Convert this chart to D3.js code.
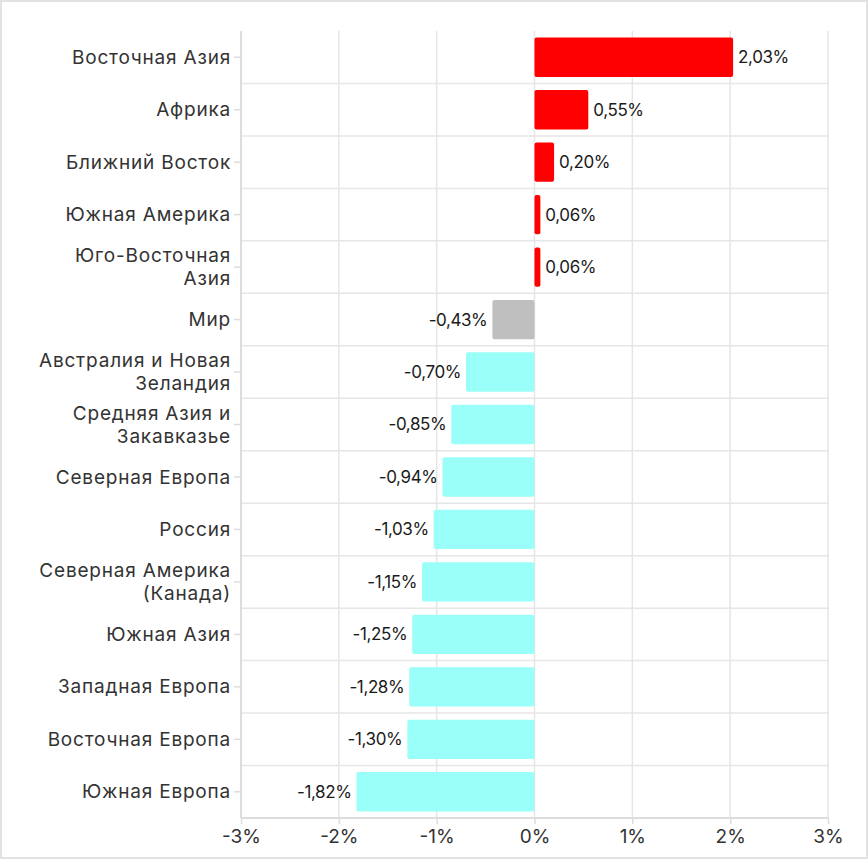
<!DOCTYPE html>
<html>
<head>
<meta charset="utf-8">
<script src="https://cdn.jsdelivr.net/npm/d3@7"></script>
<style>
	html, body { margin: 0; padding: 0; background: #fff; }
	#frame { position: absolute; left: 0; top: 0; width: 864px; height: 855px; border: 2px solid #e2e2e2; }
	svg { display: block; }
</style>
</head>
<body>
<div id="frame"></div>
<svg id="chart" width="868" height="859" style="position:absolute;left:0;top:0"></svg>
<script>
// regions, top to bottom
let regions = [
	'Восточная Азия', 'Африка', 'Ближний Восток', 'Южная Америка', 'Юго-Восточная|Азия',
	'Мир', 'Австралия и Новая|Зеландия', 'Средняя Азия и|Закавказье', 'Северная Европа',
	'Россия', 'Северная Америка|(Канада)', 'Южная Азия', 'Западная Европа',
	'Восточная Европа', 'Южная Европа'
];
let values = [2.03, 0.55, 0.20, 0.06, 0.06, -0.43, -0.70, -0.85, -0.94, -1.03, -1.15, -1.25, -1.28, -1.30, -1.82];
let xTicks = [-3, -2, -1, 0, 1, 2, 3];

let posColor = '#ff0000';
let negColor = '#99fff8';
let worldColor = '#bfbfbf';
let gridColor = '#e6e6e6';
let fontFam = 'Inter, "Noto Sans", sans-serif';

let plotL = 241, plotR = 828, plotT = 31, plotB = 818;

let svg = d3.select('#chart');

let xScale = d3.scaleLinear().domain([-3, 3]).range([plotL, plotR]);
let yScale = d3.scaleBand().domain(regions).range([plotT, plotB]).paddingInner(0.25).paddingOuter(0.125);
let step = yScale.step();

// vertical grid
svg.append('g').selectAll('line').data(xTicks).join('line')
	.attr('x1', d => xScale(d)).attr('x2', d => xScale(d))
	.attr('y1', plotT).attr('y2', plotB)
	.attr('stroke', gridColor).attr('stroke-width', 1.5);

// row separators
svg.append('g').selectAll('line').data(regions.slice(1)).join('line')
	.attr('x1', plotL).attr('x2', plotR + 1)
	.attr('y1', d => yScale(d) - yScale.paddingInner() * step / 2)
	.attr('y2', d => yScale(d) - yScale.paddingInner() * step / 2)
	.attr('stroke', gridColor).attr('stroke-width', 1.5);

// bars
svg.append('g').selectAll('rect').data(values).join('rect')
	.attr('x', d => xScale(Math.min(0, d)))
	.attr('width', d => Math.abs(xScale(d) - xScale(0)))
	.attr('y', (d, i) => yScale(regions[i]))
	.attr('height', yScale.bandwidth())
	.attr('rx', 2)
	.attr('fill', (d, i) => regions[i] == 'Мир' ? worldColor : (d >= 0 ? posColor : negColor));

// value labels
svg.append('g').selectAll('text').data(values).join('text')
	.attr('x', d => d >= 0 ? xScale(d) + 5 : xScale(d) - 5)
	.attr('y', (d, i) => yScale(regions[i]) + yScale.bandwidth() / 2)
	.attr('dy', '0.35em')
	.attr('text-anchor', d => d >= 0 ? 'start' : 'end')
	.attr('font-family', fontFam).attr('font-size', 17).attr('fill', '#1a1a1a')
	.attr('letter-spacing', -0.4)
	.text(d => d.toFixed(2).replace('.', ',') + '%');

// y axis
let yAxis = svg.append('g').attr('transform', `translate(${plotL},0)`)
	.call(d3.axisLeft(yScale).tickSize(7).tickPadding(4).tickFormat(''));
yAxis.select('.domain').attr('stroke', '#dddddd').attr('stroke-width', 2)
	.attr('d', `M0,${plotT}V${plotB}`);
yAxis.selectAll('.tick line').attr('stroke', '#dddddd').attr('stroke-width', 1.5);
yAxis.selectAll('.tick').each(function (d) {
	let lines = d.split('|');
	let t = d3.select(this).append('text')
		.attr('x', -10)
		.attr('text-anchor', 'end')
		.attr('font-family', fontFam).attr('font-size', 19).attr('fill', '#333')
		.attr('letter-spacing', 0.8);
	lines.forEach((ln, k) => {
		t.append('tspan').attr('x', -10)
			.attr('y', (k - (lines.length - 1) / 2) * 23)
			.attr('dy', '0.35em')
			.text(ln);
	});
});

// x axis
let xAxis = svg.append('g').attr('transform', `translate(0,${plotB})`)
	.call(d3.axisBottom(xScale).tickValues(xTicks).tickSize(6).tickPadding(6).tickFormat(d => d + '%'));
xAxis.select('.domain').attr('stroke', '#dddddd').attr('stroke-width', 2)
	.attr('d', `M${plotL},0H${plotR}`);
xAxis.selectAll('.tick line').attr('stroke', '#dddddd').attr('stroke-width', 1.5);
xAxis.selectAll('.tick text')
	.attr('font-family', fontFam).attr('font-size', 19).attr('fill', '#333');
</script>
</body>
</html>
